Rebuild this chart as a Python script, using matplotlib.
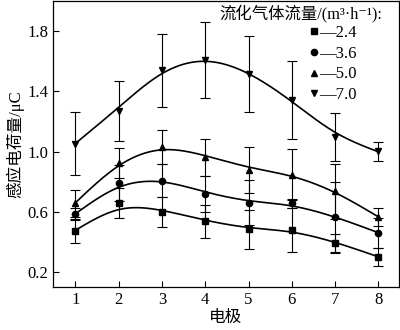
import matplotlib

matplotlib.use("Agg")

import matplotlib.pyplot as plt
import numpy as np

plt.rcParams["font.family"] = ["Liberation Serif", "Noto Sans CJK SC", "DejaVu Serif"]

ELECTRODES = [1, 2, 3, 4, 5, 6, 7, 8]
FLOW_LABELS = ["2.4", "3.6", "5.0", "7.0"]
MARKERS = ["s", "o", "^", "v"]

CHARGE_24 = [0.475, 0.66, 0.60, 0.54, 0.486, 0.482, 0.398, 0.303]
CHARGE_36 = [0.585, 0.794, 0.809, 0.719, 0.662, 0.658, 0.565, 0.463]
CHARGE_50 = [0.658, 0.926, 1.032, 0.963, 0.880, 0.849, 0.737, 0.567]
CHARGE_70 = [1.055, 1.270, 1.540, 1.610, 1.517, 1.342, 1.097, 1.002]

ERR_24 = [0.08, 0.10, 0.10, 0.11, 0.13, 0.145, 0.06, 0.06]
ERR_36 = [0.04, 0.12, 0.11, 0.12, 0.15, 0.03, 0.235, 0.10]
ERR_50 = [0.09, 0.10, 0.11, 0.125, 0.155, 0.17, 0.18, 0.06]
ERR_70 = [0.21, 0.20, 0.24, 0.25, 0.25, 0.26, 0.16, 0.065]

series = [CHARGE_24, CHARGE_36, CHARGE_50, CHARGE_70]
errors = [ERR_24, ERR_36, ERR_50, ERR_70]


def smooth_curve(xs, ys, lam=0.12, step=0.05, end_weight=6.0):
    # penalised least squares on a fine grid (roughly a cubic smoothing spline)
    grid = np.arange(xs[0], xs[-1] + step / 2, step)
    n = len(grid)
    sel = np.zeros((len(xs), n))
    for i, xv in enumerate(xs):
        sel[i, int(round((xv - xs[0]) / step))] = 1.0
    w = np.ones(len(xs))
    w[0] = w[-1] = end_weight
    d2 = np.diff(np.eye(n), 2, axis=0) / step**2
    a = sel.T @ (w[:, None] * sel) + lam * step * d2.T @ d2
    f = np.linalg.solve(a, sel.T @ (w * np.asarray(ys)))
    return grid, f


fig = plt.figure(figsize=(4.0, 3.3), dpi=100)
ax = fig.add_axes([0.133, 0.131, 0.864, 0.866])

handles = []
for vals, errs, marker, label in zip(series, errors, MARKERS, FLOW_LABELS):
    gx, gy = smooth_curve(ELECTRODES, vals)
    ax.plot(gx, gy, color="black", linewidth=1.2)
    ax.errorbar(ELECTRODES, vals, yerr=errs, fmt="none", ecolor="black",
                elinewidth=0.8, capsize=3.5, capthick=0.8)
    h, = ax.plot(ELECTRODES, vals, linestyle="none", marker=marker,
                 color="black", markersize=4.5, label="—" + label)
    handles.append(h)

ax.set_xlim(0.49, 8.47)
ax.set_ylim(0.105, 2.0)
ax.set_xticks(ELECTRODES)
ax.set_yticks([0.2, 0.6, 1.0, 1.4, 1.8])
ax.set_yticklabels(["0.2", "0.6", "1.0", "1.4", "1.8"])
ax.tick_params(direction="in", labelsize=12, length=4, width=0.8)
for spine in ax.spines.values():
    spine.set_linewidth(0.9)

ax.set_xlabel("电极", fontsize=12, labelpad=2)
ax.set_ylabel("感应电荷量/μC", fontsize=12, labelpad=2)

fig.text(219 / 400, 1 - 13 / 330, "流化气体流量/(m³·h⁻¹):", fontsize=11.8,
         ha="left", va="center")
ax.legend(handles=handles, loc="upper left", frameon=False,
          bbox_to_anchor=(311 / 400, 1 - 25 / 330),
          bbox_transform=fig.transFigure, fontsize=12, handlelength=0.4,
          handletextpad=0.1, labelspacing=0.28, borderaxespad=0.0,
          borderpad=0.0)

fig.savefig("out.png", dpi=100)
